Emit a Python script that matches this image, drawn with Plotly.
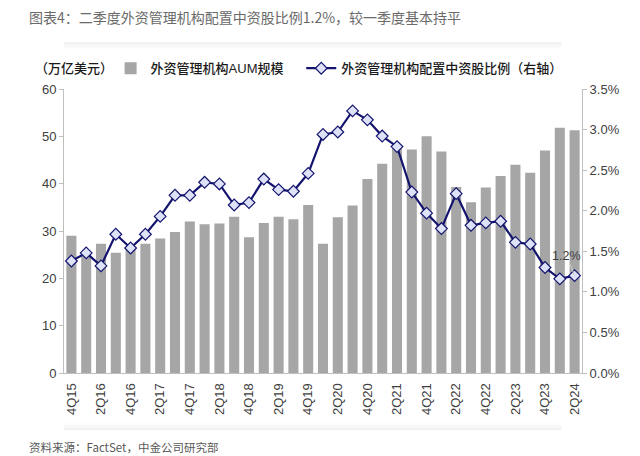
import plotly.graph_objects as go

quarters = ["4Q15", "1Q16", "2Q16", "3Q16", "4Q16", "1Q17", "2Q17", "3Q17", "4Q17",
            "1Q18", "2Q18", "3Q18", "4Q18", "1Q19", "2Q19", "3Q19", "4Q19",
            "1Q20", "2Q20", "3Q20", "4Q20", "1Q21", "2Q21", "3Q21", "4Q21",
            "1Q22", "2Q22", "3Q22", "4Q22", "1Q23", "2Q23", "3Q23", "4Q23",
            "1Q24", "2Q24"]
aum = [29.0, 25.0, 27.3, 25.4, 26.2, 27.3, 28.4, 29.8, 32.0, 31.4,
       31.6, 33.0, 28.7, 31.7, 33.0, 32.5, 35.5, 27.3, 32.9, 35.4,
       41.0, 44.2, 47.4, 47.2, 50.0, 46.8, 39.3, 36.1, 39.2, 41.6,
       44.0, 42.3, 47.0, 51.8, 51.3]
ratio = [1.38, 1.48, 1.32, 1.71, 1.54, 1.71, 1.93, 2.19, 2.19, 2.35,
         2.33, 2.07, 2.10, 2.39, 2.26, 2.24, 2.46, 2.94, 2.97, 3.23,
         3.12, 2.92, 2.79, 2.23, 1.97, 1.78, 2.21, 1.82, 1.85, 1.87,
         1.61, 1.59, 1.30, 1.16, 1.20]
tick_labels = quarters[::2]
left_ticks = [0, 10, 20, 30, 40, 50, 60]
right_ticks = [0.0, 0.5, 1.0, 1.5, 2.0, 2.5, 3.0, 3.5]
right_tick_text = [f"{v:.1f}%" for v in right_ticks]

title_text = "图表4：二季度外资管理机构配置中资股比例1.2%，较一季度基本持平"
source_text = "资料来源：FactSet，中金公司研究部"
unit_text = "（万亿美元）"
bar_name = "外资管理机构AUM规模"
line_name = "外资管理机构配置中资股比例（右轴）"

FONT = "Liberation Sans, Arial, Noto Sans CJK SC, sans-serif"
CJK_FONT = "Noto Sans CJK SC, Liberation Sans, sans-serif"
AXIS_C = "#bfbfbf"
TICK_FONT = dict(size=13, color="#404040", family=FONT)

fig = go.Figure()
fig.add_trace(go.Bar(x=quarters, y=aum, name=bar_name, marker_color="#a6a6a6",
                     marker_line_width=0, yaxis="y", legend="legend"))
fig.add_trace(go.Scatter(x=quarters, y=ratio, name=line_name, yaxis="y2",
                         mode="lines+markers", legend="legend2",
                         line=dict(color="#14146e", width=2.2),
                         marker=dict(symbol="diamond", size=9, color="#dde2f7",
                                     line=dict(color="#14146e", width=1.2))))

fig.add_annotation(x=quarters[-1], y=ratio[-1], xref="x", yref="y2",
                   text=f"{ratio[-1]:.1f}%", showarrow=True, arrowhead=0,
                   arrowwidth=1, arrowcolor="#d0d0d0", ax=-8, ay=-20,
                   font=dict(size=12.5, color="#404040", family=FONT))

fig.add_annotation(x=-0.06, y=1.073, xref="paper", yref="paper", text=unit_text,
                   showarrow=False, xanchor="left", yanchor="middle",
                   font=dict(size=13, color="#1a1a1a", family=FONT, weight=500))
fig.add_annotation(x=-0.072, y=1.252, xref="paper", yref="paper", text=title_text,
                   showarrow=False, xanchor="left", yanchor="middle",
                   font=dict(size=14, color="#6a6a6a", family=CJK_FONT))
fig.add_annotation(x=-0.072, y=-0.26, xref="paper", yref="paper", text=source_text,
                   showarrow=False, xanchor="left", yanchor="middle",
                   font=dict(size=11.5, color="#595959", family=CJK_FONT))

# soft separator shadows
for i, op in enumerate([0.16, 0.10, 0.06, 0.03]):
    fig.add_shape(type="line", xref="paper", yref="paper", x0=0.0, x1=0.96,
                  y0=1.162 - i * 0.006, y1=1.162 - i * 0.006,
                  line=dict(color="#9a9a9a", width=1.5), opacity=op)
    fig.add_shape(type="line", xref="paper", yref="paper", x0=0.0, x1=0.96,
                  y0=-0.198 + i * 0.006, y1=-0.198 + i * 0.006,
                  line=dict(color="#9a9a9a", width=1.5), opacity=op)

legend_common = dict(orientation="h", y=1.073, xanchor="left", yanchor="middle",
                     font=dict(size=13, color="#1a1a1a", family=FONT, weight=500),
                     bgcolor="rgba(0,0,0,0)")

fig.update_layout(
    width=640, height=456,
    margin=dict(l=64, r=58, t=89, b=83),
    paper_bgcolor="white", plot_bgcolor="white",
    font=dict(family=FONT, size=12, color="#404040"),
    bargap=0.32,
    showlegend=True,
    legend=dict(x=0.09, **legend_common),
    legend2=dict(x=0.458, **legend_common),
    xaxis=dict(type="category", tickmode="array", tickvals=tick_labels,
               ticktext=tick_labels, tickangle=-90, showgrid=False,
               showline=True, linecolor=AXIS_C, linewidth=1, ticks="",
               ticklabelstandoff=4,
               range=[-0.5, len(quarters) - 0.5], tickfont=TICK_FONT),
    yaxis=dict(range=[0, 60], tickmode="array", tickvals=left_ticks,
               showgrid=False, zeroline=False,
               showline=True, linecolor=AXIS_C, linewidth=1, ticks="outside",
               ticklen=4, tickcolor=AXIS_C, tickfont=TICK_FONT),
    yaxis2=dict(range=[0, 3.5], tickmode="array", tickvals=right_ticks,
                ticktext=right_tick_text, overlaying="y", side="right",
                showgrid=False, zeroline=False, showline=True, linecolor=AXIS_C,
                linewidth=1, ticks="outside", ticklen=4, tickcolor=AXIS_C,
                tickfont=TICK_FONT),
)

fig.write_html("out.html", config={"displayModeBar": False},
               post_script="document.body.style.margin='0';document.body.style.overflow='hidden';")
